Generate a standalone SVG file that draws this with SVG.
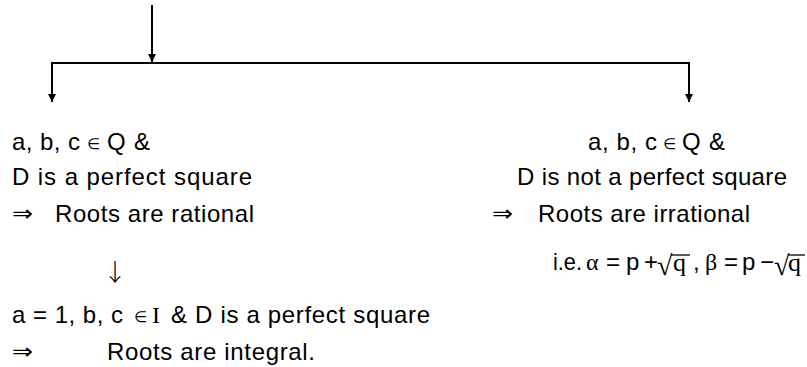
<svg xmlns="http://www.w3.org/2000/svg" width="807" height="367" viewBox="0 0 807 367">
<defs>
<style>
text{font-family:"Liberation Sans",Arial,sans-serif;font-size:24px;fill:#000}
.sym{font-family:"DejaVu Sans",sans-serif;font-size:15px}
.ser{font-family:"Liberation Serif","DejaVu Serif",serif;font-size:24px}
.rad{font-family:"Liberation Serif","DejaVu Serif",serif;font-size:28px}
.qq{font-family:"Liberation Serif","DejaVu Serif",serif;font-size:26px}
.arr{font-family:"DejaVu Sans",sans-serif;font-size:22px}
.dn{font-family:"Noto Sans CJK JP","DejaVu Sans",sans-serif;font-size:24px;font-weight:300}
.ln{stroke:#000;stroke-width:2;fill:none}
.bar{stroke:#000;stroke-width:1.3}
</style>
<marker id="ah" viewBox="0 0 8 8" markerWidth="8" markerHeight="8" refX="8" refY="4" orient="auto" markerUnits="userSpaceOnUse">
<path d="M0,0 L8,4 L0,8 z" fill="#000"/>
</marker>
</defs>
<rect width="807" height="367" fill="#fff"/>
<g id="connectors">
<line class="ln" x1="152" y1="5" x2="152" y2="62" marker-end="url(#ah)"/>
<polyline class="ln" points="52,102 52,63 689,63 689,102" marker-end="url(#ah)"/>
<line class="ln" x1="52" y1="63" x2="52" y2="102" marker-end="url(#ah)"/>
</g>
<g id="left">
<text x="12" y="150" textLength="68" lengthAdjust="spacing">a, b, c</text>
<text class="sym" x="87" y="149">∈</text>
<text x="107" y="150" textLength="43" lengthAdjust="spacing">Q &amp;</text>
<text x="12" y="185" textLength="240" lengthAdjust="spacing">D is a perfect square</text>
<text class="arr" x="12" y="221" textLength="21" lengthAdjust="spacingAndGlyphs">⇒</text>
<text x="55" y="222" textLength="199" lengthAdjust="spacing">Roots are rational</text>
</g>
<g id="down">
<text class="dn" x="115" y="281" text-anchor="middle">↓</text>
</g>
<g id="bottom">
<text x="12" y="323" textLength="111" lengthAdjust="spacing">a = 1, b, c</text>
<text class="sym" x="134" y="322">∈</text>
<text class="ser" x="152" y="323">I</text>
<text x="171" y="323" textLength="259" lengthAdjust="spacing">&amp; D is a perfect square</text>
<text class="arr" x="12" y="359" textLength="21" lengthAdjust="spacingAndGlyphs">⇒</text>
<text x="107" y="360" textLength="208" lengthAdjust="spacing">Roots are integral.</text>
</g>
<g id="right">
<text x="588" y="150" textLength="69" lengthAdjust="spacing">a, b, c</text>
<text class="sym" x="663" y="149">∈</text>
<text x="682" y="150" textLength="43" lengthAdjust="spacing">Q &amp;</text>
<text x="517" y="185" textLength="270" lengthAdjust="spacing">D is not a perfect square</text>
<text class="arr" x="492" y="221" textLength="21" lengthAdjust="spacingAndGlyphs">⇒</text>
<text x="538" y="222" textLength="212" lengthAdjust="spacing">Roots are irrational</text>
</g>
<g id="formula">
<text x="553" y="270" textLength="29" lengthAdjust="spacingAndGlyphs">i.e.</text>
<text class="ser" x="586" y="270">α</text>
<text x="606" y="270">=</text>
<text x="626" y="270">p</text>
<text x="644" y="270">+</text>
<text class="rad" x="657" y="275">√</text>
<line class="bar" x1="671" y1="255" x2="690" y2="255"/>
<text class="qq" x="673" y="271">q</text>
<text x="693" y="270">,</text>
<text class="ser" x="705" y="270">β</text>
<text x="724" y="270">=</text>
<text x="742" y="270">p</text>
<text x="760" y="270">−</text>
<text class="rad" x="774" y="275">√</text>
<line class="bar" x1="788" y1="255" x2="805" y2="255"/>
<text class="qq" x="788" y="271">q</text>
</g>
</svg>
